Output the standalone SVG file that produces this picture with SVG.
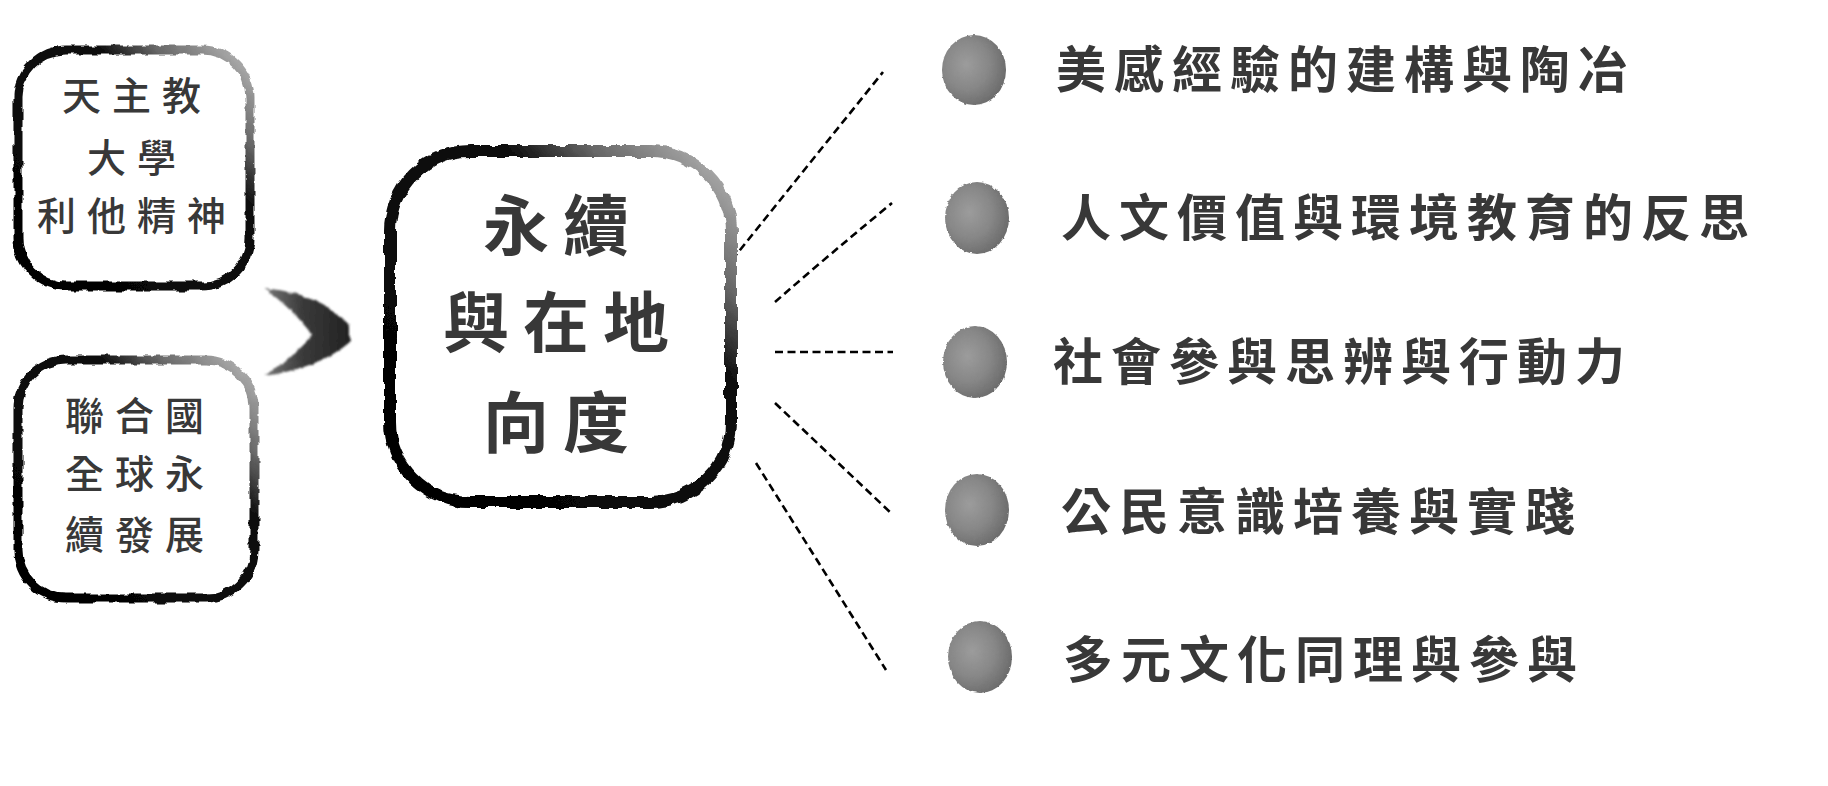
<svg xmlns="http://www.w3.org/2000/svg" width="1828" height="786" viewBox="0 0 1828 786">
<style>
  .lbl{font-family:"Noto Sans CJK TC","Noto Sans CJK SC",sans-serif;fill:#383838;}
  .small{font-size:39px;letter-spacing:11px;font-weight:500;text-anchor:middle;}
  .big{font-size:66px;letter-spacing:14px;font-weight:700;text-anchor:middle;}
  .item{font-size:50px;letter-spacing:8px;font-weight:700;}
  .box{fill:#fff;stroke:url(#ink);filter:url(#rough);}
  .dash{fill:none;stroke:#000;stroke-width:2.6;stroke-dasharray:8 4.5;}
  .dot{fill:url(#ball);filter:url(#fuzz);}
</style>
<defs>
  <linearGradient id="ink" x1="0" y1="1" x2="1" y2="0">
    <stop offset="0" stop-color="#000"/>
    <stop offset="0.68" stop-color="#111"/>
    <stop offset="0.8" stop-color="#666"/>
    <stop offset="1" stop-color="#bbb"/>
  </linearGradient>
  <radialGradient id="ball" cx="0.38" cy="0.42" r="0.65">
    <stop offset="0" stop-color="#9c9c9c"/>
    <stop offset="0.55" stop-color="#878787"/>
    <stop offset="1" stop-color="#6a6a6a"/>
  </radialGradient>
  <linearGradient id="chev" x1="0" y1="0" x2="1" y2="0">
    <stop offset="0" stop-color="#777"/>
    <stop offset="0.45" stop-color="#3a3a3a"/>
    <stop offset="1" stop-color="#222"/>
  </linearGradient>
  <filter id="rough" x="-10%" y="-10%" width="120%" height="120%">
    <feTurbulence type="fractalNoise" baseFrequency="0.09" numOctaves="2" seed="4" result="n"/>
    <feDisplacementMap in="SourceGraphic" in2="n" scale="6" xChannelSelector="R" yChannelSelector="G"/>
  </filter>
  <filter id="fuzz" x="-20%" y="-20%" width="140%" height="140%">
    <feTurbulence type="fractalNoise" baseFrequency="0.3" numOctaves="1" seed="2" result="n"/>
    <feDisplacementMap in="SourceGraphic" in2="n" scale="3" xChannelSelector="R" yChannelSelector="G" result="d"/>
    <feGaussianBlur in="d" stdDeviation="0.6"/>
  </filter>
  <filter id="brush" x="-10%" y="-10%" width="120%" height="120%">
    <feTurbulence type="fractalNoise" baseFrequency="0.15" numOctaves="2" seed="7" result="n"/>
    <feDisplacementMap in="SourceGraphic" in2="n" scale="4" xChannelSelector="R" yChannelSelector="G" result="d"/>
    <feGaussianBlur in="d" stdDeviation="0.8"/>
  </filter>
</defs>
<rect width="1828" height="786" fill="#fff"/>

<g id="connectors">
  <path d="M 264 288 Q 322 294 350 326 L 350 342 Q 320 368 264 376 Q 294 358 312 335 Q 296 312 264 288 Z" fill="url(#chev)" filter="url(#brush)"/>
  <line class="dash" x1="732" y1="260" x2="883" y2="72"/>
  <path class="dash" d="M 775 302 Q 830 254 892 203"/>
  <line class="dash" x1="775" y1="352" x2="893" y2="352"/>
  <line class="dash" x1="775" y1="403" x2="892" y2="514"/>
  <line class="dash" x1="756" y1="463" x2="886" y2="670"/>
</g>

<g id="node-catholic">
  <rect class="box" x="18" y="50" width="232" height="236" rx="48" stroke-width="9"/>
  <text class="lbl small" x="137" y="110">天主教</text>
  <text class="lbl small" x="137" y="172">大學</text>
  <text class="lbl small" x="137" y="230">利他精神</text>
</g>

<g id="node-un">
  <rect class="box" x="18" y="360" width="236" height="238" rx="48" stroke-width="9"/>
  <text class="lbl small" x="140" y="430">聯合國</text>
  <text class="lbl small" x="140" y="488">全球永</text>
  <text class="lbl small" x="140" y="549">續發展</text>
</g>

<g id="node-center">
  <rect class="box" x="390" y="151" width="341" height="351" rx="80" stroke-width="12"/>
  <text class="lbl big" x="563" y="250">永續</text>
  <text class="lbl big" x="563" y="347">與在地</text>
  <text class="lbl big" x="563" y="447">向度</text>
</g>

<g id="item-1">
  <ellipse class="dot" cx="974" cy="70" rx="32" ry="35"/>
  <text class="lbl item" x="1056" y="88">美感經驗的建構與陶冶</text>
</g>
<g id="item-2">
  <ellipse class="dot" cx="977" cy="218" rx="32" ry="36"/>
  <text class="lbl item" x="1061" y="236">人文價值與環境教育的反思</text>
</g>
<g id="item-3">
  <ellipse class="dot" cx="975" cy="362" rx="32" ry="36"/>
  <text class="lbl item" x="1053" y="380">社會參與思辨與行動力</text>
</g>
<g id="item-4">
  <ellipse class="dot" cx="977" cy="510" rx="32" ry="36"/>
  <text class="lbl item" x="1061" y="530">公民意識培養與實踐</text>
</g>
<g id="item-5">
  <ellipse class="dot" cx="980" cy="657" rx="32" ry="36"/>
  <text class="lbl item" x="1063" y="678">多元文化同理與參與</text>
</g>
</svg>
